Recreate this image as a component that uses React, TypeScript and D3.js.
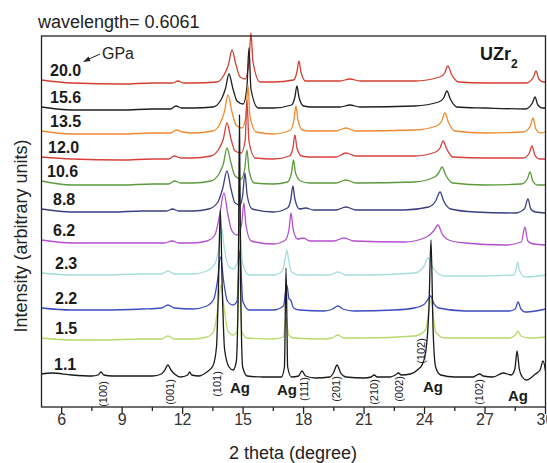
import React from 'react';
import * as d3 from 'd3';

// ---- data (2theta in degrees, intensity in arbitrary units incl. stacking offset) ----
const MAJOR_TICKS = [6, 9, 12, 15, 18, 21, 24, 27, 30];
const MINOR_TICKS = [7.5, 10.5, 13.5, 16.5, 19.5, 22.5, 25.5, 28.5];
const PRESSURES = ['20.0', '15.6', '13.5', '12.0', '10.6', '8.8', '6.2', '2.3', '2.2', '1.5', '1.1'];

const p20_0: [number, number][] = [
  [5.0, 327], [6.5, 324], [9.0, 323], [10.5, 324], [11.5, 324], [11.77, 326], [12.05, 324], [12.5, 324],
  [13.7, 325], [14.05, 332], [14.27, 342], [14.45, 357], [14.65, 342], [14.85, 330], [15.1, 328], [15.29, 345],
  [15.39, 374], [15.49, 345], [15.85, 325], [16.5, 325], [17.5, 327], [17.67, 335], [17.77, 346], [17.87, 335],
  [18.1, 326], [18.4, 326], [19.8, 326], [20.3, 328], [20.8, 326], [23.5, 326], [24.75, 330], [25.0, 334],
  [25.16, 341], [25.33, 333], [25.7, 325], [27.0, 324], [29.05, 324], [29.4, 330], [29.53, 336], [29.67, 328],
  [29.9, 325], [30.0, 325],
];
const p15_6: [number, number][] = [
  [5.0, 300], [6.5, 297], [9.0, 297], [10.5, 298], [11.4, 298], [11.67, 301], [11.95, 299], [12.5, 299],
  [13.5, 300], [13.9, 307], [14.12, 318], [14.3, 333], [14.5, 318], [14.7, 306], [15.0, 303], [15.19, 320],
  [15.29, 359], [15.39, 318], [15.75, 299], [16.5, 299], [17.4, 302], [17.57, 310], [17.67, 321], [17.77, 310],
  [18.0, 301], [18.4, 300], [19.8, 300], [20.3, 302], [20.8, 300], [23.5, 301], [24.7, 305], [24.95, 309],
  [25.11, 316], [25.28, 308], [25.6, 300], [27.0, 299], [29.0, 298], [29.35, 304], [29.48, 310], [29.62, 302],
  [29.85, 299], [30.0, 299],
];
const p13_5: [number, number][] = [
  [5.0, 276], [6.5, 273], [9.0, 273], [10.5, 274], [11.4, 274], [11.7, 277], [12.0, 275], [12.5, 274],
  [13.5, 276], [13.85, 283], [14.07, 295], [14.25, 312], [14.45, 295], [14.65, 282], [14.95, 279], [15.14, 291],
  [15.24, 322], [15.34, 291], [15.65, 275], [16.5, 273], [17.35, 277], [17.52, 287], [17.62, 301], [17.72, 287],
  [17.95, 277], [18.3, 276], [19.6, 276], [20.1, 279], [20.6, 276], [23.5, 277], [24.6, 281], [24.85, 286],
  [25.01, 294], [25.18, 285], [25.5, 276], [27.0, 274], [28.9, 275], [29.25, 281], [29.38, 289], [29.52, 278],
  [29.75, 274], [30.0, 275],
];
const p12_0: [number, number][] = [
  [5.0, 250], [6.5, 248], [9.0, 247], [10.5, 248], [11.3, 248], [11.6, 251], [11.9, 249], [12.5, 249],
  [13.4, 251], [13.8, 258], [14.02, 268], [14.2, 284], [14.4, 268], [14.6, 256], [14.9, 254], [15.1, 266],
  [15.19, 307], [15.29, 266], [15.6, 249], [16.5, 248], [17.3, 251], [17.47, 259], [17.57, 272], [17.67, 259],
  [17.9, 251], [18.3, 250], [19.6, 250], [20.1, 254], [20.6, 251], [23.5, 251], [24.55, 255], [24.77, 259],
  [24.92, 266], [25.1, 258], [25.4, 250], [27.0, 249], [28.9, 249], [29.2, 254], [29.33, 261], [29.47, 252],
  [29.7, 248], [30.0, 248],
];
const p10_6: [number, number][] = [
  [5.0, 226], [6.5, 222], [9.0, 222], [10.5, 223], [11.3, 223], [11.6, 226], [11.9, 224], [12.5, 224],
  [13.4, 226], [13.8, 233], [14.02, 243], [14.2, 259], [14.4, 244], [14.6, 231], [14.9, 228], [15.08, 238],
  [15.19, 257], [15.3, 236], [15.55, 224], [16.5, 223], [17.2, 225], [17.4, 234], [17.5, 247], [17.6, 234],
  [17.85, 226], [18.3, 224], [19.6, 224], [20.1, 227], [20.6, 224], [23.5, 225], [24.5, 230], [24.7, 234],
  [24.87, 240], [25.05, 232], [25.4, 224], [27.0, 222], [28.8, 223], [29.1, 228], [29.23, 235], [29.37, 226],
  [29.6, 222], [30.0, 222],
];
const p8_8: [number, number][] = [
  [5.0, 198], [6.5, 195], [8.5, 195], [10.0, 196], [11.2, 196], [11.5, 198], [11.8, 196], [12.5, 196],
  [13.3, 198], [13.75, 205], [13.98, 218], [14.2, 236], [14.4, 218], [14.6, 204], [14.85, 202], [14.98, 212],
  [15.09, 234], [15.2, 212], [15.45, 198], [16.5, 195], [17.2, 199], [17.37, 208], [17.47, 221], [17.57, 208],
  [17.8, 198], [18.1, 199], [18.5, 197], [19.6, 197], [20.1, 200], [20.6, 197], [23.0, 197], [24.2, 200],
  [24.55, 206], [24.77, 215], [24.95, 206], [25.3, 198], [26.5, 195], [28.5, 194], [28.95, 198], [29.13, 208],
  [29.27, 198], [29.5, 195], [30.0, 194],
];
const p6_2: [number, number][] = [
  [5.0, 167], [6.5, 164], [8.0, 164], [10.0, 164], [11.1, 164], [11.47, 166], [11.8, 164], [12.5, 164],
  [13.2, 166], [13.6, 172], [13.82, 190], [14.05, 214], [14.25, 192], [14.45, 176], [14.7, 172], [14.92, 182],
  [15.04, 204], [15.14, 182], [15.4, 166], [16.5, 163], [17.1, 167], [17.28, 178], [17.38, 194], [17.48, 178],
  [17.7, 168], [18.0, 169], [18.3, 166], [19.5, 166], [20.0, 169], [20.5, 166], [23.0, 165], [24.1, 170],
  [24.45, 176], [24.67, 182], [24.85, 174], [25.2, 167], [26.0, 164], [28.0, 162], [28.8, 165], [28.98, 180],
  [29.12, 166], [29.4, 163], [30.0, 162],
];
const p2_3: [number, number][] = [
  [5.0, 134], [6.5, 132], [8.0, 132], [10.0, 133], [10.95, 133], [11.27, 136], [11.6, 133], [12.5, 133],
  [13.2, 136], [13.6, 143], [13.8, 160], [13.93, 179], [14.06, 160], [14.25, 142], [14.5, 138], [14.72, 145],
  [14.84, 187], [14.96, 145], [15.3, 132], [16.5, 132], [16.95, 136], [17.1, 150], [17.17, 157], [17.25, 148],
  [17.4, 135], [17.8, 132], [19.3, 132], [19.7, 135], [20.1, 132], [21.0, 132], [23.5, 134], [23.95, 140],
  [24.17, 149], [24.4, 140], [24.7, 133], [25.0, 131], [27.0, 131], [28.4, 132], [28.55, 138], [28.62, 145],
  [28.7, 137], [29.0, 130], [30.0, 132],
];
const p2_2: [number, number][] = [
  [5.0, 99], [6.5, 97], [8.0, 97], [10.0, 98], [10.95, 99], [11.27, 102], [11.6, 99], [12.5, 98],
  [13.2, 101], [13.55, 108], [13.72, 125], [13.88, 150], [14.04, 125], [14.22, 106], [14.5, 102], [14.7, 106],
  [14.84, 157], [14.98, 106], [15.3, 97], [16.5, 97], [17.0, 101], [17.17, 122], [17.28, 108], [17.36, 107],
  [17.5, 99], [17.8, 97], [19.0, 96], [19.45, 98], [19.7, 101], [19.95, 98], [20.5, 96], [22.5, 97],
  [23.5, 99], [24.0, 103], [24.18, 108], [24.3, 111], [24.45, 104], [24.7, 99], [26.0, 96], [28.2, 96],
  [28.5, 98], [28.64, 105], [28.78, 98], [29.0, 95], [29.5, 96], [30.0, 98],
];
const p1_5: [number, number][] = [
  [5.0, 69], [6.5, 67], [8.0, 67], [10.0, 68], [10.95, 68], [11.27, 71], [11.6, 68], [12.5, 68],
  [13.2, 70], [13.55, 76], [13.75, 100], [13.9, 122], [14.05, 100], [14.25, 76], [14.5, 72], [14.7, 75],
  [14.82, 140], [14.94, 75], [15.2, 69], [16.5, 68], [17.0, 70], [17.13, 89], [17.26, 72], [17.5, 69],
  [19.0, 68], [19.4, 69], [19.7, 72], [20.0, 69], [21.0, 69], [23.5, 71], [24.05, 77], [24.32, 107],
  [24.55, 75], [25.0, 69], [27.0, 69], [28.2, 69], [28.5, 72], [28.64, 76], [28.78, 71], [29.2, 69], [30.0, 70],
];
const p1_1: [number, number][] = [
  [5.0, 33], [5.5, 34], [6.5, 32], [7.5, 31], [7.8, 32], [7.95, 35], [8.1, 32], [8.5, 31], [9.5, 31],
  [10.5, 31], [10.95, 33], [11.12, 37], [11.27, 42], [11.42, 37], [11.6, 33], [11.9, 30], [12.25, 32],
  [12.35, 35], [12.45, 32], [12.8, 31], [13.2, 35], [13.5, 41], [13.68, 60], [13.77, 115], [13.87, 197],
  [13.97, 115], [14.08, 58], [14.3, 40], [14.5, 37], [14.66, 45], [14.76, 120], [14.82, 292], [14.88, 120],
  [14.98, 40], [15.2, 31], [16.0, 30], [16.9, 30], [17.05, 40], [17.13, 139], [17.21, 40], [17.4, 30],
  [17.75, 31], [17.92, 36], [18.1, 31], [18.6, 29], [19.3, 30], [19.48, 34], [19.66, 42], [19.84, 34],
  [20.1, 30], [21.0, 29], [21.35, 30], [21.5, 32], [21.65, 30], [22.3, 30], [22.55, 32], [22.7, 34],
  [22.85, 32], [23.3, 33], [23.7, 38], [23.9, 43], [24.08, 58], [24.22, 100], [24.32, 167], [24.42, 80],
  [24.55, 40], [24.8, 32], [25.5, 30], [26.4, 30], [26.6, 32], [26.75, 33], [26.9, 31], [27.4, 30],
  [27.9, 34], [28.3, 32], [28.48, 38], [28.59, 56], [28.7, 38], [28.85, 30], [29.05, 27], [29.5, 33],
  [29.73, 37], [29.88, 46], [30.0, 36],
];

const TRACES = [p20_0, p15_6, p13_5, p12_0, p10_6, p8_8, p6_2, p2_3, p2_2, p1_5, p1_1];

// Miller-index annotations (2theta, intensity at label centre)
const HKL_TEXT = ['(100)', '(001)', '(101)', '(111)', '(201)', '(210)', '(002)', '(102)', '(102)'];
const HKL_POS = [8.07, 11.37, 13.73, 18.02, 19.63, 21.49, 22.73, 23.82, 26.7];
const HKL_INT = [13, 15, 23, 18, 18, 15, 18, 56, 15];
const AG_POS = [14.35, 16.68, 23.92, 28.14];
const AG_INT = [14, 12, 15, 6];

// ---- styles ----
const COLORS = ['#d23f31', '#1f1f1f', '#ef8a2e', '#d8403a', '#5b9a3b', '#3b3f80', '#b44fd0', '#a6dede', '#3c4cc0', '#b9d96b', '#1a1a1a'];
const LABEL_X = [50, 50, 50, 48, 47, 53, 53, 55, 55, 55, 54];
const FONT = '"Liberation Sans", Arial, Helvetica, sans-serif';

const W = 547, H = 463;
const L = 41.5, R = 545.5, T = 36, B = 407;

export default function App() {
  const x = d3.scaleLinear().domain([5, 30]).range([L, R]);
  const y = d3.scaleLinear().domain([0, 371]).range([B, T]);
  const line = d3.line<[number, number]>()
    .x((d) => x(d[0]))
    .y((d) => y(d[1]))
    .curve(d3.curveMonotoneX);

  return (
    <svg width={W} height={H} style={{ position: 'absolute', left: 0, top: 0, background: '#fff' }} fontFamily={FONT}>
      <rect x={0} y={0} width={W} height={H} fill="#fff" />
      <text x={38} y={28} fontSize={18} fill="#222">wavelength= 0.6061</text>

      {TRACES.map((d, i) => (
        <path key={i} d={line(d) || ''} fill="none" stroke={COLORS[i]} strokeWidth={1.3} strokeLinejoin="round" />
      ))}

      {PRESSURES.map((p, i) => (
        <text key={p} x={LABEL_X[i]} y={y(TRACES[i][0][1]) - 4} fontSize={16} fontWeight="bold" fill="#1a1a1a">{p}</text>
      ))}

      {/* GPa annotation */}
      <text x={102} y={59} fontSize={16} fill="#222">GPa</text>
      <line x1={100} y1={54} x2={88} y2={59.5} stroke="#222" strokeWidth={1} />
      <path d="M83,62 L88.5,56.5 L90.5,61 Z" fill="#222" />

      {/* UZr2 */}
      <text x={480} y={60} fontSize={18} fontWeight="bold" fill="#1a1a1a">UZr</text>
      <text x={511} y={68} fontSize={12} fontWeight="bold" fill="#1a1a1a">2</text>

      {HKL_TEXT.map((t, i) => (
        <text key={i} transform={`translate(${x(HKL_POS[i])},${y(HKL_INT[i])}) rotate(-90)`} textAnchor="middle" dy="0.35em" fontSize={11} fill="#222">{t}</text>
      ))}
      {AG_POS.map((p, i) => (
        <text key={i} x={x(p)} y={y(AG_INT[i])} fontSize={15} fontWeight="bold" fill="#1a1a1a">Ag</text>
      ))}

      {/* frame */}
      <rect x={L} y={T} width={R - L} height={B - T} fill="none" stroke="#222" strokeWidth={1.3} />
      {MAJOR_TICKS.map((t) => (
        <g key={t}>
          <line x1={x(t)} x2={x(t)} y1={B} y2={B + 7} stroke="#222" strokeWidth={1.3} />
          <text x={x(t)} y={B + 18} textAnchor="middle" fontSize={16} fill="#333">{t}</text>
        </g>
      ))}
      {MINOR_TICKS.map((t) => (
        <line key={t} x1={x(t)} x2={x(t)} y1={B} y2={B + 4} stroke="#222" strokeWidth={1.3} />
      ))}
      <text x={293} y={459} textAnchor="middle" fontSize={18} fill="#222">2 theta (degree)</text>
      <text transform="translate(27,236) rotate(-90)" textAnchor="middle" fontSize={18} fill="#222">Intensity (arbitrary units)</text>
    </svg>
  );
}
